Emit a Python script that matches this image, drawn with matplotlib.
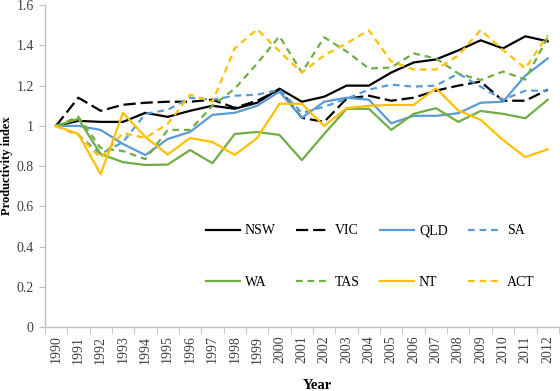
import numpy as np
import matplotlib
matplotlib.use("Agg")
import matplotlib.pyplot as plt

# ---------------- data ----------------
years = [str(y) for y in range(1990, 2013)]

nsw = [1.0, 1.025, 1.02, 1.02, 1.065, 1.045, 1.075, 1.10, 1.085, 1.115, 1.185, 1.12,
       1.145, 1.20, 1.20, 1.265, 1.315, 1.33, 1.375, 1.425, 1.385, 1.445, 1.42]
vic = [1.0, 1.14, 1.075, 1.105, 1.115, 1.12, 1.12, 1.13, 1.09, 1.125, 1.18, 1.04,
       1.02, 1.135, 1.15, 1.125, 1.14, 1.175, 1.20, 1.22, 1.125, 1.125, 1.18]
qld = [1.0, 1.0, 0.98, 0.91, 0.855, 0.935, 0.97, 1.055, 1.065, 1.10, 1.17, 1.04,
       1.12, 1.14, 1.13, 1.013, 1.05, 1.05, 1.063, 1.115, 1.12, 1.25, 1.335]
sa = [1.0, 0.955, 0.86, 0.92, 1.06, 1.08, 1.14, 1.13, 1.15, 1.155, 1.18, 1.065,
      1.095, 1.135, 1.18, 1.205, 1.195, 1.20, 1.26, 1.195, 1.13, 1.175, 1.175]
wa = [1.0, 1.035, 0.86, 0.82, 0.806, 0.808, 0.88, 0.815, 0.96, 0.97, 0.955, 0.83,
      0.96, 1.085, 1.085, 0.98, 1.06, 1.088, 1.02, 1.074, 1.06, 1.038, 1.13]
tas = [1.0, 1.045, 0.89, 0.875, 0.835, 0.98, 0.98, 1.10, 1.185, 1.31, 1.445, 1.265,
       1.44, 1.37, 1.285, 1.29, 1.36, 1.335, 1.26, 1.228, 1.27, 1.23, 1.44]
nt = [1.0, 0.96, 0.76, 1.065, 0.945, 0.858, 0.94, 0.92, 0.856, 0.94, 1.11, 1.11,
      1.0, 1.088, 1.10, 1.104, 1.104, 1.187, 1.076, 1.03, 0.93, 0.845, 0.884]
act = [1.0, 0.955, 0.84, 0.965, 0.94, 1.01, 1.155, 1.12, 1.385, 1.48, 1.37, 1.265,
       1.35, 1.41, 1.475, 1.32, 1.28, 1.28, 1.35, 1.476, 1.377, 1.286, 1.45]

names = ["NSW", "VIC", "QLD", "SA", "WA", "TAS", "NT", "ACT"]
series = [nsw, vic, qld, sa, wa, tas, nt, act]

# ---------------- styles ----------------
black = "#000000"
blue = "#5B9BD5"
green = "#70AD47"
gold = "#FFC000"
long_dash = (0, (5.5, 2.2))
short_dash = (0, (3.0, 2.2))
styles = {
    "NSW": (black, "-"), "VIC": (black, long_dash),
    "QLD": (blue, "-"), "SA": (blue, short_dash),
    "WA": (green, "-"), "TAS": (green, short_dash),
    "NT": (gold, "-"), "ACT": (gold, short_dash),
}

plt.rcParams["font.family"] = ["Liberation Serif", "DejaVu Serif"]

fig = plt.figure(figsize=(5.6, 3.91), dpi=100)
ax = fig.add_axes([0.080, 0.163, 0.918, 0.824])

x = np.arange(len(years))
lines = {}
for name, vals in zip(names, series):
    col, ls = styles[name]
    (ln,) = ax.plot(x, vals, color=col, linestyle=ls, linewidth=1.6, label=name)
    lines[name] = ln

ax.set_xlim(-0.5, len(years) - 0.5)
ax.set_ylim(0, 1.6)
ax.set_yticks(np.arange(0, 1.61, 0.2))
ax.set_yticklabels(["0", "0.2", "0.4", "0.6", "0.8", "1", "1.2", "1.4", "1.6"])

# category labels centred, tick marks between categories
ax.set_xticks(x)
ax.set_xticklabels(years, rotation=90)
ax.set_xticks(np.arange(-0.5, len(years), 1.0), minor=True)
ax.tick_params(axis="x", which="major", length=0, pad=6)
ax.tick_params(axis="x", which="minor", length=5, color="#BFBFBF", direction="out")
ax.tick_params(axis="y", length=4, color="#BFBFBF", direction="out", pad=4)
ax.tick_params(labelsize=10, labelcolor="#404040")

for s in ["top", "right"]:
    ax.spines[s].set_visible(False)
for s in ["left", "bottom"]:
    ax.spines[s].set_color("#BFBFBF")
    ax.spines[s].set_linewidth(1.0)

ax.set_ylabel("Productivity index", fontsize=9, fontweight="bold")
ax.yaxis.set_label_coords(-0.062, 0.5)
ax.set_xlabel("Year", fontsize=10.5, fontweight="bold")
ax.xaxis.set_label_coords(0.53, -0.162)

order = ["NSW", "WA", "VIC", "TAS", "QLD", "NT", "SA", "ACT"]
fig.legend([lines[n] for n in order], order, ncol=4, frameon=False,
           loc="upper left", bbox_to_anchor=(0.368, 0.426),
           fontsize=10, handlelength=2.45, handletextpad=0.35,
           columnspacing=1.45, labelspacing=2.75, borderpad=0, borderaxespad=0)

fig.savefig("out.png", dpi=100)
